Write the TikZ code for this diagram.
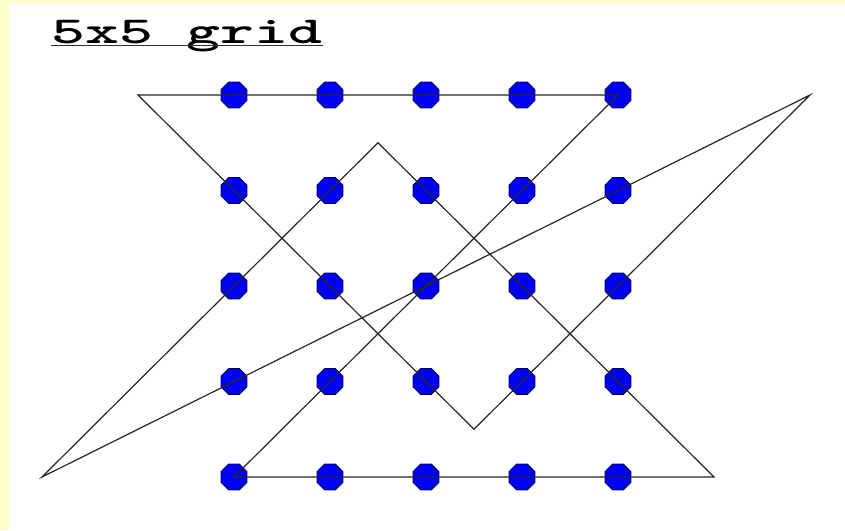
\documentclass[tikz,border=0pt]{standalone}
\usepackage{fontspec}
\usetikzlibrary{shapes.geometric}
\definecolor{bgyellow}{RGB}{255,255,204}
\definecolor{dotblue}{RGB}{0,0,245}
\definecolor{dotedge}{RGB}{0,0,90}
\begin{document}
\begin{tikzpicture}[x=1pt,y=-1pt,
  dotnode/.style={regular polygon, regular polygon sides=8, minimum size=28pt, inner sep=0pt,
    fill=dotblue, draw=dotedge, line width=0.8pt},
  pathline/.style={draw=black!85, line width=1.2pt, line join=miter, miter limit=20}]
\fill[bgyellow] (0,0) rectangle (845,530);
\fill[white] (9,4) rectangle (845,530);
\useasboundingbox (0,0) rectangle (845,530);
% title
\node[anchor=base west, inner sep=0pt] (title) at (51,43)
  {\scalebox{1.7}[1]{\ttfamily\bfseries\fontsize{38}{38}\selectfont 5x5 grid}};
\draw[line width=1.8pt, black!80] ([yshift=-2.5pt]title.base west) -- ([yshift=-2.5pt]title.base east);
% dots
\foreach \c [count=\i] in {234,330,426,522,618} {
  \foreach \r [count=\j] in {95,190.5,286,381.5,477} {
    \node[dotnode] (d\i\j) at (\c,\r) {};
  }
}
% turning points
\coordinate (pa) at (138,95);
\coordinate (pb) at (474,429.25);
\coordinate (pc) at (810,95);
\coordinate (pd) at (42,477);
\coordinate (pe) at (378,142.75);
\coordinate (pf) at (714,477);
\draw[pathline] (pa) -- (pb) -- (pc) -- (pd) -- (pe) -- (pf) -- (d15.center) -- (d51.center) -- cycle;
\end{tikzpicture}
\end{document}
